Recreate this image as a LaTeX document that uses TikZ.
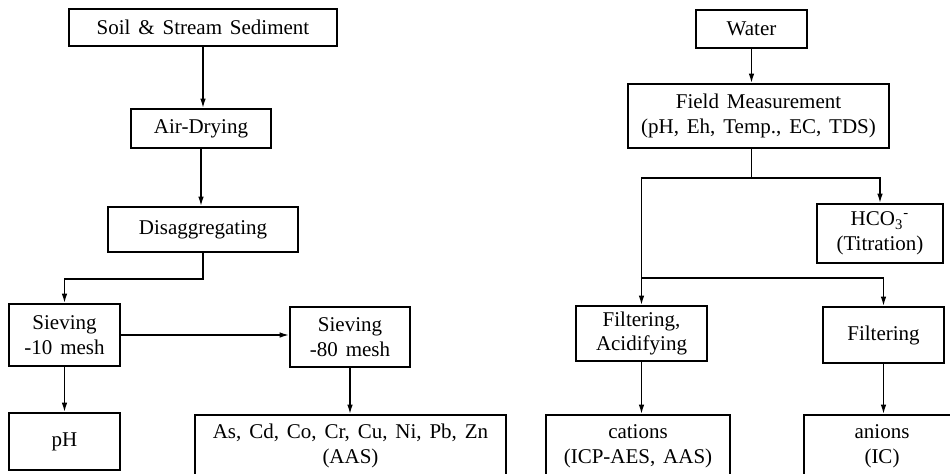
\documentclass[tikz,border=0pt]{standalone}
\usepackage{fontspec}
\setmainfont{Liberation Serif}[WordSpace=1.5]
\usetikzlibrary{arrows.meta,positioning}

\begin{document}
\begin{tikzpicture}[
x=0.5pt, y=-0.5pt,
box/.style={draw, line width=0.8pt, align=center, inner sep=2pt, font=\fontsize{10.5}{12.3}\selectfont},
arrow/.style={-{Latex[length=4.8pt,width=2.8pt]}, line width=0.8pt},
line/.style={line width=0.8pt}
]
\useasboundingbox (0,0) rectangle (950,473);
\clip (0,0) rectangle (950,473);

% soil and sediment
\node[box, minimum width=134pt, minimum height=18.5pt] (soil) at (203,27.5) {Soil \& Stream Sediment};
\node[box, minimum width=70pt, minimum height=19.5pt] (dry) at (201,128.5) {Air-Drying};
\node[box, minimum width=95pt, minimum height=22.5pt] (disagg) at (203,229.5) {Disaggregating};
\node[box, minimum width=55.5pt, minimum height=31pt] (sieve10) at (64.5,335) {Sieving\\-10 mesh};
\node[box, minimum width=60pt, minimum height=30pt] (sieve80) at (350,337) {Sieving\\-80 mesh};
\node[box, minimum width=55.5pt, minimum height=28.5pt] (ph) at (64.5,441.5) {pH};
\node[box, minimum width=155.5pt, minimum height=31pt] (metals) at (350.5,446) {As, Cd, Co, Cr, Cu, Ni, Pb, Zn\\(AAS)};

% water
\node[box, minimum width=55.5pt, minimum height=19pt] (water) at (751.5,29) {Water};
\node[box, minimum width=130.5pt, minimum height=32pt] (field) at (758.5,116) {Field Measurement\\(pH, Eh, Temp., EC, TDS)};
\node[box, minimum width=63pt, minimum height=29.5pt] (hco) at (880,233.5) {HCO\textsubscript{3}\textsuperscript{-}\\(Titration)};
\node[box, minimum width=65.5pt, minimum height=27.5pt] (acid) at (641.5,333.5) {Filtering,\\Acidifying};
\node[box, minimum width=60.5pt, minimum height=28pt] (filter) at (883.5,335) {Filtering};
\node[box, minimum width=92pt, minimum height=31pt] (cations) at (638,446) {cations\\(ICP-AES, AAS)};
\node[box, minimum width=78pt, minimum height=31pt] (anions) at (882,446) {anions\\(IC)};

\draw[arrow] (soil.south) -- (soil.south |- dry.north);
\draw[arrow] (dry.south) -- (dry.south |- disagg.north);
\draw[arrow] (disagg.south) -- ++(0,26) -| (sieve10.north);
\draw[arrow] (sieve10.east) -- (sieve10.east -| sieve80.west);
\draw[arrow] (sieve10) -- (ph);
\draw[arrow] (sieve80.south) -- (sieve80.south |- metals.north);

\draw[arrow] (water.south) -- (water.south |- field.north);
\draw[line] (water.south |- field.south) -- ++(0,29) coordinate (split);
\draw[arrow] (split) -| (hco.north);
\draw[arrow] (split) -| (acid.north);
\path (acid.north) ++(0,-27) coordinate (tee);
\draw[arrow] (tee) -| (filter.north);
\draw[arrow] (acid.south) -- (acid.south |- cations.north);
\draw[arrow] (filter.south) -- (filter.south |- anions.north);
\end{tikzpicture}
\end{document}
